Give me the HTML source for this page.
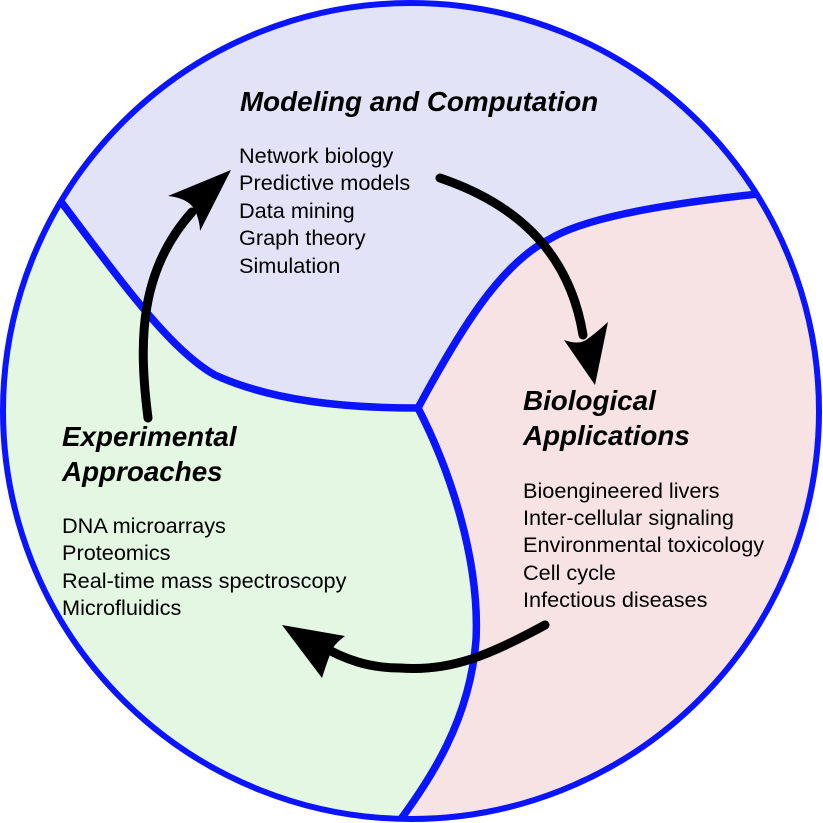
<!DOCTYPE html>
<html><head><style>html,body{margin:0;padding:0;background:#fff}svg{display:block}</style></head>
<body>
<svg width="823" height="823" viewBox="0 0 823 823" xmlns="http://www.w3.org/2000/svg">
<defs><clipPath id="c"><circle cx="411" cy="411" r="408"/></clipPath></defs>
<g clip-path="url(#c)">
<rect width="823" height="823" fill="#e3f7e3"/>
<path d="M0,0 L823,0 L823,190 L752,193 C650,205 580,220 548,240 C500,265 460,330 418,408 C340,408 270,400 215,375 C170,350 120,280 62,203 L0,180 Z" fill="#e3e3f7"/>
<path d="M823,190 L752,193 C650,205 580,220 548,240 C500,265 460,330 418,408 C450,470 480,560 476,640 C470,720 430,780 400,823 L823,823 Z" fill="#f7e3e3"/>
<g fill="none" stroke="#0a14ff" stroke-width="7.5">
<path d="M62,203 C120,280 170,350 215,375 C270,400 340,408 418,408"/>
<path d="M418,408 C460,330 500,265 548,240 C580,220 650,205 768,193"/>
<path d="M418,408 C450,470 480,560 476,640 C470,720 430,780 398,823"/>
</g>
</g>
<circle cx="411" cy="411" r="408" fill="none" stroke="#0a14ff" stroke-width="6"/>
<g fill="none" stroke="#000" stroke-width="9" stroke-linecap="round">
<path d="M148,418 C138,340 140,270 192,212"/>
<path d="M440,178 C520,205 570,255 583,335"/>
<path d="M545,625 C490,655 450,672 400,668 C370,668 345,660 320,645"/>
</g>
<g fill="#000">
<path d="M231,170 L168,196 Q188,198 195,210 Q200,222 200,231 Z"/>
<path d="M595,385 L564,340 Q578,345 586,340 Q596,333 608,322 Z"/>
<path d="M282,625 L345,636 Q333,645 331,652 Q327,662 322,678 Z"/>
</g>
<g font-family="Liberation Sans, sans-serif" fill="#000">
<g font-style="italic" font-weight="bold" font-size="27.8">
<text x="240" y="111">Modeling and Computation</text>
<text x="523" y="410">Biological</text>
<text x="523" y="445">Applications</text>
<text x="62" y="446">Experimental</text>
<text x="62" y="481">Approaches</text>
</g>
<g font-size="21.7">
<text x="239" y="163">Network biology</text>
<text x="239" y="190">Predictive models</text>
<text x="239" y="218">Data mining</text>
<text x="239" y="245">Graph theory</text>
<text x="239" y="273">Simulation</text>
<text x="523" y="498">Bioengineered livers</text>
<text x="523" y="525">Inter-cellular signaling</text>
<text x="523" y="552">Environmental toxicology</text>
<text x="523" y="580">Cell cycle</text>
<text x="523" y="607">Infectious diseases</text>
<text x="62" y="533">DNA microarrays</text>
<text x="62" y="560">Proteomics</text>
<text x="62" y="588">Real-time mass spectroscopy</text>
<text x="62" y="615">Microfluidics</text>
</g>
</g>
</svg>
</body></html>
